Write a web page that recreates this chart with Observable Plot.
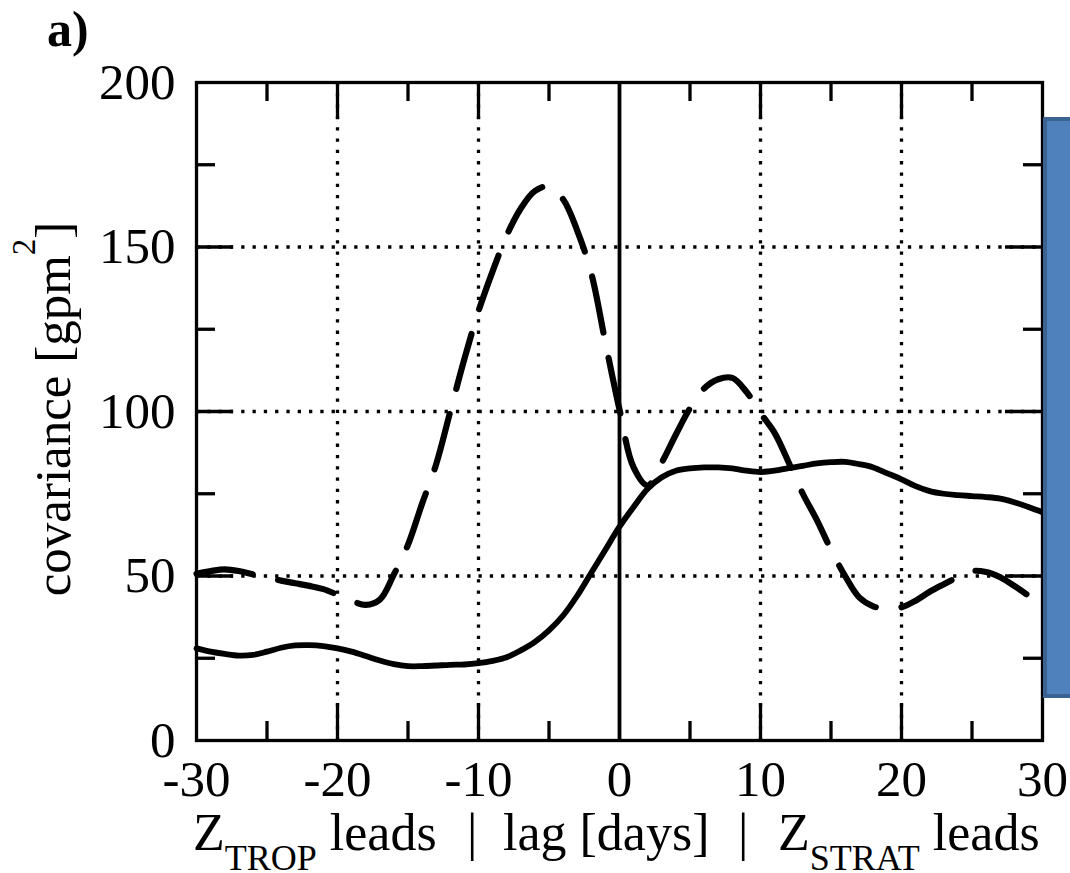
<!DOCTYPE html>
<html>
<head>
<meta charset="utf-8">
<script src="https://cdn.jsdelivr.net/npm/d3@7"></script>
<script src="https://cdn.jsdelivr.net/npm/@observablehq/plot@0.6"></script>
<style>
  body { margin: 0; background: #fff; }
  #wrap { position: relative; width: 1070px; height: 873px; overflow: hidden; background: #fff; }
  #wrap svg { position: absolute; left: 0; top: 0; }
  #box { position: absolute; left: 1043px; top: 117px; width: 40px; height: 573px;
         background: #4f81bd; border: 4px solid #3b6290; }
</style>
</head>
<body>
<div id="wrap"></div>
<script>
// ---- data ----
const lags = [-30,-29,-28,-27,-26,-25,-24,-23,-22,-21,-20,-19,-18,-17,-16,-15,-14,-13,-12,-11,-10,
  -9,-8,-7,-6,-5,-4,-3,-2,-1,0,1,2,3,4,5,6,7,8,9,10,11,12,13,14,15,16,17,18,19,20,
  21,22,23,24,25,26,27,28,29,30];

const covSolid = [28,27,26.3,25.8,26,27,28.2,28.9,29,28.7,28,27,25.7,24.3,23.2,22.6,22.6,22.8,23,23.1,23.5,
  24.2,25.3,27.4,30,33.5,38,44,51,58,65,71,76.5,80,82,82.7,83,83,82.7,82,81.6,
  82,82.8,83.5,84.2,84.6,84.7,84,83,81.2,79.4,77.3,75.8,75,74.6,74.3,74,73.5,72.4,71,69.4];

const covDashed = [50.7,51.5,52,51.5,50.5,49.6,48.6,47.8,47,46,44.3,42.5,41.2,42.8,50.5,59.5,72,84,100,116,130.5,
  142.6,153.5,161.7,167,168.4,164.5,155,142,121,100.6,83,77.5,84.5,93,101,107,109.8,110.2,106,99.5,
  93.5,84.5,75,67,58,50,43.5,40.8,40,40.5,42.5,45.2,47.5,49.7,51.5,51.2,49.6,47,44,40.5];

const xTickLabels = [-30,-20,-10,0,10,20,30];
const yTickLabels = [0,50,100,150,200];
const xMajor = [-20,-10,10,20];
const xMinor = [-25,-15,-5,5,15,25];
const yMajor = [50,100,150];
const yMinor = [25,75,125,175];

// ---- layout ----
const W = 1070, H = 873;
const ML = 196, MR = 28, MT = 82, MB = 133;
const FH = H - MT - MB, FW = W - ML - MR;
const LONG = 37, SHORT = 19;

const solidData = lags.map((d, i) => ({lag: d, v: covSolid[i]}));
const dashedData = lags.map((d, i) => ({lag: d, v: covDashed[i]}));

const dotted = {stroke: "#000", strokeWidth: 3.3, strokeDasharray: "3.3,8"};

const chart = Plot.plot({
  width: W, height: H,
  marginLeft: ML, marginRight: MR, marginTop: MT, marginBottom: MB,
  style: {fontFamily: "'Liberation Serif', 'Times New Roman', serif", fontSize: "51px", background: "#fff", color: "#000"},
  x: {domain: [-30, 30]},
  y: {domain: [0, 200]},
  marks: [
    Plot.ruleX(xMajor, {x: d => d, ...dotted}),
    Plot.ruleY(yMajor, {y: d => d, ...dotted}),
    Plot.ruleX([0], {x: d => d, stroke: "#000", strokeWidth: 3.8}),
    Plot.line(solidData, {x: "lag", y: "v", stroke: "#000", strokeWidth: 5.8, curve: "catmull-rom"}),
    Plot.line(dashedData, {x: "lag", y: "v", stroke: "#000", strokeWidth: 6.2, strokeDasharray: "57,26", curve: "catmull-rom"}),
    // inward ticks bottom/top
    Plot.tickX(xMajor, {x: d => d, insetTop: FH - LONG, strokeWidth: 3.3}),
    Plot.tickX(xMajor, {x: d => d, insetBottom: FH - LONG, strokeWidth: 3.3}),
    Plot.tickX(xMinor, {x: d => d, insetTop: FH - SHORT, strokeWidth: 3.3}),
    Plot.tickX(xMinor, {x: d => d, insetBottom: FH - SHORT, strokeWidth: 3.3}),
    // inward ticks left/right
    Plot.tickY(yMajor, {y: d => d, insetRight: FW - LONG, strokeWidth: 3.3}),
    Plot.tickY(yMajor, {y: d => d, insetLeft: FW - LONG, strokeWidth: 3.3}),
    Plot.tickY(yMinor, {y: d => d, insetRight: FW - SHORT, strokeWidth: 3.3}),
    Plot.tickY(yMinor, {y: d => d, insetLeft: FW - SHORT, strokeWidth: 3.3}),
    Plot.frame({stroke: "#000", strokeWidth: 3.3}),
    Plot.axisX(xTickLabels, {tickSize: 0, tickPadding: 19, tickFormat: d => String(d), label: null}),
    Plot.axisY(yTickLabels, {tickSize: 0, tickPadding: 21, tickFormat: d => String(d), label: null})
  ]
});

document.getElementById("wrap").appendChild(chart);

const svg = d3.select(chart);
const serif = "'Liberation Serif', 'Times New Roman', serif";

svg.append("text")
  .attr("x", 47).attr("y", 46).attr("text-anchor", "start")
  .attr("font-family", serif).attr("font-weight", "bold").attr("font-size", 50)
  .attr("fill", "#000")
  .text("a)");

// x-axis title
const xt = svg.append("text")
  .attr("y", 850).attr("text-anchor", "start")
  .attr("font-family", serif).attr("font-size", 52).attr("fill", "#000");
xt.append("tspan").attr("x", 193).text("Z");
xt.append("tspan").attr("font-size", 36).attr("dy", 20).text("TROP");
xt.append("tspan").attr("dy", -20).text("\u00A0leads");
xt.append("tspan").attr("x", 467).text("|");
xt.append("tspan").attr("x", 503).text("lag [days]");
xt.append("tspan").attr("x", 738).text("|");
xt.append("tspan").attr("x", 778).text("Z");
xt.append("tspan").attr("font-size", 36).attr("dy", 20).text("STRAT");
xt.append("tspan").attr("dy", -20).text("\u00A0leads");

// y-axis title
const yt = svg.append("text")
  .attr("transform", "translate(70,409) rotate(-90)")
  .attr("text-anchor", "middle")
  .attr("font-family", serif).attr("font-size", 51).attr("fill", "#000");
yt.append("tspan").text("covariance [gpm");
yt.append("tspan").attr("font-size", 33).attr("dy", -35).text("2");
yt.append("tspan").attr("dy", 35).text("]");

// decorative blue panel at the right edge
const box = document.createElement("div");
box.id = "box";
document.getElementById("wrap").appendChild(box);
</script>
</body>
</html>
